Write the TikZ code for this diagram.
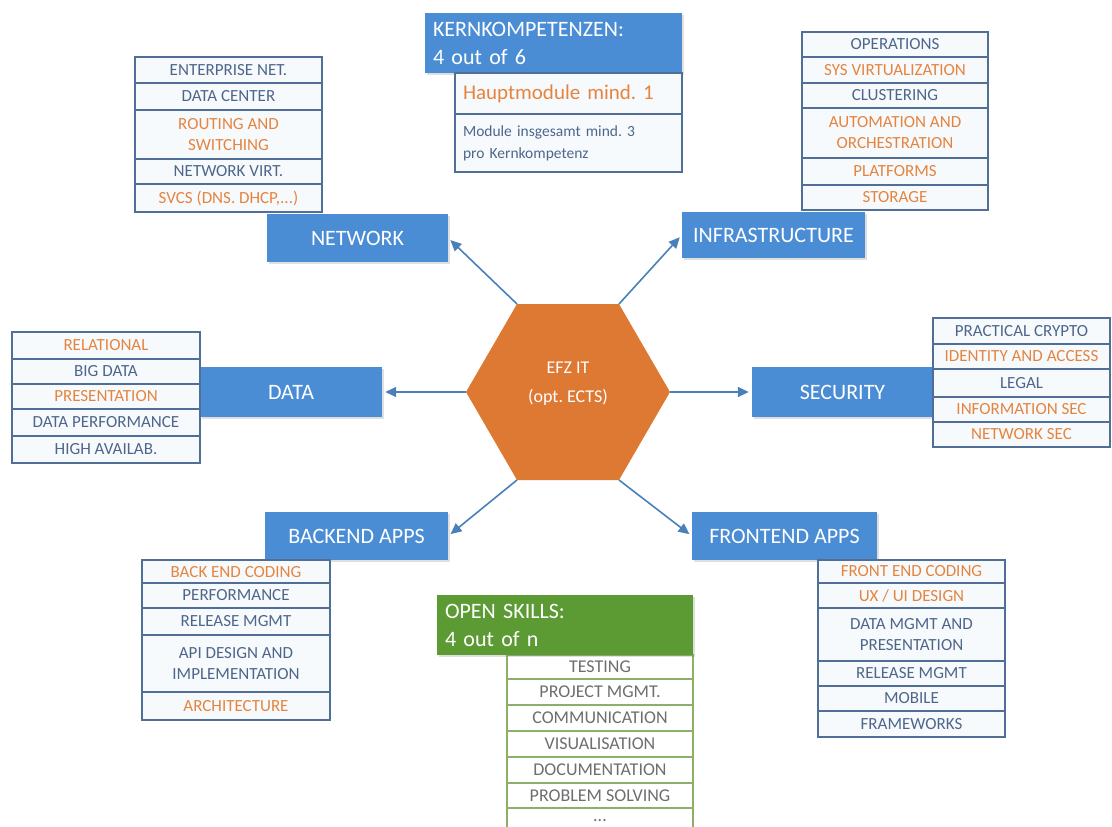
\documentclass[tikz,border=0pt]{standalone}
\usepackage{fontspec}
\setmainfont{Carlito}
\frenchspacing
\usetikzlibrary{arrows.meta,shadows}
\definecolor{boxblue}{RGB}{74,141,212}
\definecolor{linkblue}{RGB}{74,128,185}
\definecolor{rowline}{RGB}{80,110,150}
\definecolor{rowtext}{RGB}{78,102,138}
\definecolor{roworange}{RGB}{229,132,62}
\definecolor{rowfill}{RGB}{247,250,253}
\definecolor{hexorange}{RGB}{222,121,52}
\definecolor{greenhead}{RGB}{92,154,52}
\definecolor{greenline}{RGB}{140,176,105}
\definecolor{greentext}{RGB}{110,110,110}
\begin{document}
\begin{tikzpicture}[x=1pt,y=-1pt,
  catbox/.style={fill=boxblue, text=white, inner sep=0pt,
    font=\fontsize{22}{26}\selectfont,
    drop shadow={shadow xshift=2pt, shadow yshift=-2pt, opacity=0.25, fill=gray}},
  headbox/.style={text=white, inner ysep=0pt, inner xsep=8pt, align=left,
    minimum height=60pt, font=\fontsize{22}{28}\selectfont,
    drop shadow={shadow xshift=2pt, shadow yshift=-2pt, opacity=0.25, fill=gray}},
  row/.style={draw=rowline, line width=1.2pt, fill=rowfill, inner sep=0pt,
    align=center, text=rowtext, font=\fontsize{17}{21}\selectfont},
  orow/.style={row, text=roworange},
  greenrow/.style={draw=greenline, line width=1.2pt, fill=white, inner sep=0pt,
    align=center, text=greentext, font=\fontsize{18}{21}\selectfont,
    minimum width=186pt},
  arr/.style={draw=linkblue, line width=1.6pt,
    -{Triangle[length=11pt,width=10pt]}, shorten >=3pt},
  hextext/.style={text=white, inner sep=0pt, font=\fontsize{18}{21}\selectfont}
]
\useasboundingbox (0,0) rectangle (1112,827);
\path[clip] (0,0) rectangle (1112,827);

% ---------- central hexagon ----------
\coordinate (hR)  at (670,392);
\coordinate (hTR) at (619,304);
\coordinate (hTL) at (517,304);
\coordinate (hL)  at (466,392);
\coordinate (hBL) at (517,480);
\coordinate (hBR) at (619,480);
\fill[hexorange] (hR) -- (hTR) -- (hTL) -- (hL) -- (hBL) -- (hBR) -- cycle;
\node[hextext] (efz) at (568,368) {EFZ IT};
\node[hextext] (opt) at (568,397) {(opt. ECTS)};

% ---------- category boxes ----------
\node[catbox, minimum width=181pt, minimum height=48pt] (network)  at (357.5,238) {NETWORK};
\node[catbox, minimum width=183pt, minimum height=46pt] (infra)    at (773.5,235) {INFRASTRUCTURE};
\node[catbox, minimum width=182pt, minimum height=50pt] (data)     at (291,392)   {DATA};
\node[catbox, minimum width=181pt, minimum height=50pt] (security) at (842.5,392) {SECURITY};
\node[catbox, minimum width=183pt, minimum height=48pt] (backend)  at (356.5,536) {BACKEND APPS};
\node[catbox, minimum width=185pt, minimum height=48pt] (frontend) at (784.5,536) {FRONTEND APPS};

% ---------- arrows ----------
\draw[arr] (hTL) -- (network.east);
\draw[arr] (hTR) -- (infra.west);
\draw[arr] (hL)  -- (data.east);
\draw[arr] (hR)  -- (security.west);
\draw[arr] (hBL) -- (backend.east);
\draw[arr] (hBR) -- (frontend.west);

% ---------- Kernkompetenzen ----------
\node[headbox, fill=boxblue, text width=241pt] (kern) at (553.5,43) {KERNKOMPETENZEN:\\4 out of 6};
\node[row, minimum width=227pt, minimum height=41pt, text width=211pt, inner xsep=8pt,
  align=left, text=roworange, font=\fontsize{21}{24}\selectfont] (haupt) at (568.5,93.5) {Hauptmodule mind. 1};
\node[row, minimum width=227pt, minimum height=58pt, text width=211pt, inner xsep=8pt,
  align=left, font=\fontsize{15.5}{22}\selectfont] (modul) at (568.5,143) {Module insgesamt mind. 3\\pro Kernkompetenz};

% ---------- Network list ----------
\node[row,  minimum width=187pt, minimum height=26pt] (n1) at (228.5,70)    {ENTERPRISE NET.};
\node[row,  minimum width=187pt, minimum height=27pt] (n2) at (228.5,96.5)  {DATA CENTER};
\node[orow, minimum width=187pt, minimum height=49pt] (n3) at (228.5,134.5) {ROUTING AND\\SWITCHING};
\node[row,  minimum width=187pt, minimum height=25pt] (n4) at (228.5,171.5) {NETWORK VIRT.};
\node[orow, minimum width=187pt, minimum height=28pt] (n5) at (228.5,198)   {SVCS (DNS. DHCP,...)};

% ---------- Infrastructure list ----------
\node[row,  minimum width=186pt, minimum height=25pt] (i1) at (895,44.5)  {OPERATIONS};
\node[orow, minimum width=186pt, minimum height=26pt] (i2) at (895,70)    {SYS VIRTUALIZATION};
\node[row,  minimum width=186pt, minimum height=25pt] (i3) at (895,95.5)  {CLUSTERING};
\node[orow, minimum width=186pt, minimum height=50pt] (i4) at (895,133)   {AUTOMATION AND\\ORCHESTRATION};
\node[orow, minimum width=186pt, minimum height=27pt] (i5) at (895,171.5) {PLATFORMS};
\node[orow, minimum width=186pt, minimum height=25pt] (i6) at (895,197.5) {STORAGE};

% ---------- Data list ----------
\node[orow, minimum width=188pt, minimum height=27pt] (d1) at (106,345.5) {RELATIONAL};
\node[row,  minimum width=188pt, minimum height=25pt] (d2) at (106,371.5) {BIG DATA};
\node[orow, minimum width=188pt, minimum height=25pt] (d3) at (106,396.5) {PRESENTATION};
\node[row,  minimum width=188pt, minimum height=27pt] (d4) at (106,422.5) {DATA PERFORMANCE};
\node[row,  minimum width=188pt, minimum height=27pt] (d5) at (106,449.5) {HIGH AVAILAB.};

% ---------- Security list ----------
\node[row,  minimum width=177pt, minimum height=26pt] (s1) at (1021.5,331)   {PRACTICAL CRYPTO};
\node[orow, minimum width=177pt, minimum height=25pt] (s2) at (1021.5,356.5) {IDENTITY AND ACCESS};
\node[row,  minimum width=177pt, minimum height=28pt] (s3) at (1021.5,383)   {LEGAL};
\node[orow, minimum width=177pt, minimum height=25pt] (s4) at (1021.5,409.5) {INFORMATION SEC};
\node[orow, minimum width=177pt, minimum height=25pt] (s5) at (1021.5,434.5) {NETWORK SEC};

% ---------- Backend list ----------
\node[orow, minimum width=188pt, minimum height=24pt] (b1) at (236,572)   {BACK END CODING};
\node[row,  minimum width=188pt, minimum height=25pt] (b2) at (236,595.5) {PERFORMANCE};
\node[row,  minimum width=188pt, minimum height=27pt] (b3) at (236,621.5) {RELEASE MGMT};
\node[row,  minimum width=188pt, minimum height=57pt] (b4) at (236,663.5) {API DESIGN AND\\IMPLEMENTATION};
\node[orow, minimum width=188pt, minimum height=28pt] (b5) at (236,706)   {ARCHITECTURE};

% ---------- Frontend list ----------
\node[orow, minimum width=187pt, minimum height=23pt] (f1) at (911.5,571.5) {FRONT END CODING};
\node[orow, minimum width=187pt, minimum height=25pt] (f2) at (911.5,595.5) {UX / UI DESIGN};
\node[row,  minimum width=187pt, minimum height=53pt] (f3) at (911.5,634.5) {DATA MGMT AND\\PRESENTATION};
\node[row,  minimum width=187pt, minimum height=25pt] (f4) at (911.5,673.5) {RELEASE MGMT};
\node[row,  minimum width=187pt, minimum height=25pt] (f5) at (911.5,698.5) {MOBILE};
\node[row,  minimum width=187pt, minimum height=26pt] (f6) at (911.5,724)   {FRAMEWORKS};

% ---------- Open skills ----------
\node[greenrow, minimum height=24pt] (o1) at (600,667)   {TESTING};
\node[greenrow, minimum height=26pt] (o2) at (600,692)   {PROJECT MGMT.};
\node[greenrow, minimum height=26pt] (o3) at (600,718)   {COMMUNICATION};
\node[greenrow, minimum height=26pt] (o4) at (600,744)   {VISUALISATION};
\node[greenrow, minimum height=26pt] (o5) at (600,770)   {DOCUMENTATION};
\node[greenrow, minimum height=25pt] (o6) at (600,795.5) {PROBLEM SOLVING};
\node[greenrow, minimum height=26pt] (o7) at (600,821)   {...};
\node[headbox, fill=greenhead, text width=240pt] (open) at (565,625) {OPEN SKILLS:\\4 out of n};
\end{tikzpicture}
\end{document}
